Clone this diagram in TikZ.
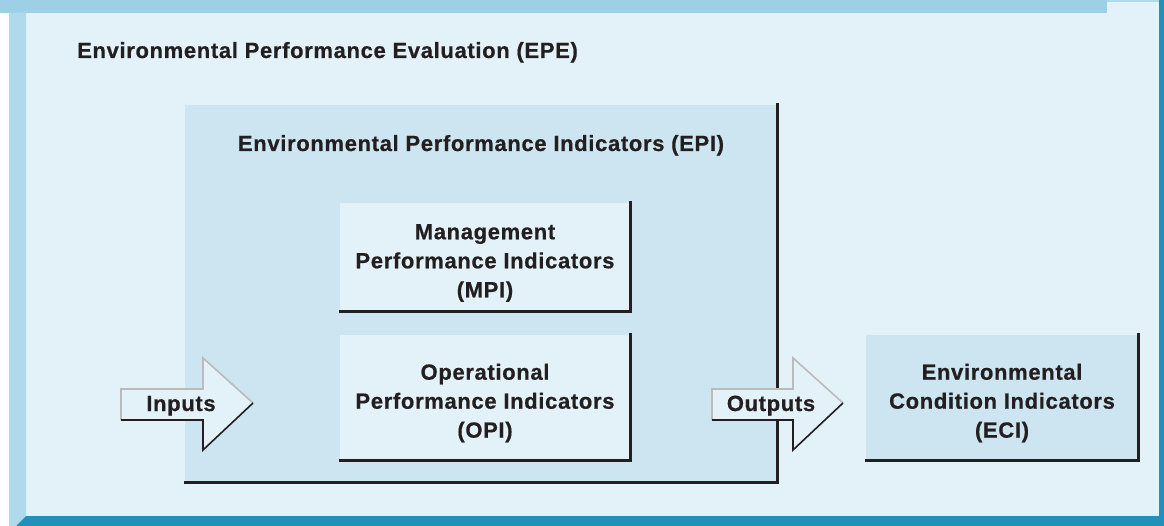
\documentclass[tikz,border=0pt]{standalone}
\usepackage{fontspec}
\newfontfamily\labelfont[LetterSpace=3,FakeBold=0.6]{Liberation Sans Bold}
\begin{document}
\definecolor{topbar}{HTML}{9DD0E7}
\definecolor{sidebar}{HTML}{B0D9EC}
\definecolor{panel}{HTML}{E3F1F8}
\definecolor{boxfill}{HTML}{CCE5F0}
\definecolor{darkbar}{HTML}{2290B8}
\definecolor{edgegray}{HTML}{BBBBBB}
\definecolor{ink}{HTML}{231F20}
\begin{tikzpicture}[x=1pt,y=-1pt,
  txt/.style={font={\labelfont\fontsize{22}{29}\selectfont},text=ink,align=center,inner sep=0pt},
  shade/.style={draw=ink,line width=3pt,line cap=rect},
  litedge/.style={draw=edgegray,line width=1.6pt,line join=miter},
  darkedge/.style={draw=ink,line width=1.6pt,line join=miter}]
\useasboundingbox (0,0) rectangle (1164,526);
% frame
\fill[white] (0,0) rectangle (1164,526);
\fill[panel] (26,2) rectangle (1159,516);
\fill[topbar] (0,0) rectangle (1107,13);
\fill[sidebar] (1107,0) rectangle (1159,2);
\fill[sidebar] (9,13) -- (26,13) -- (26,516) -- (16,526) -- (9,526) -- cycle;
\fill[darkbar] (26,516) -- (1159,516) -- (1159,0) -- (1164,0) -- (1164,526) -- (16,526) -- cycle;
% title
\node[txt,anchor=base west] (epe) at (77,58) {Environmental Performance Evaluation (EPE)};
% EPI box
\fill[boxfill] (185,105) rectangle (777,482);
\draw[shade] (777,105) -- (777,482) -- (185,482);
\node[txt,anchor=base] (epi) at (481,151) {Environmental Performance Indicators (EPI)};
% MPI box
\fill[panel] (340,203) rectangle (630,312);
\draw[shade] (630,203) -- (630,312) -- (340,312);
\node[txt] (mpi) at (485,263) {Management\\Performance Indicators\\(MPI)};
% OPI box
\fill[panel] (340,335) rectangle (630,460);
\draw[shade] (630,335) -- (630,460) -- (340,460);
\node[txt] (opi) at (485,403) {Operational\\Performance Indicators\\(OPI)};
% ECI box
\fill[boxfill] (866,335) rectangle (1138,460);
\draw[shade] (1138,335) -- (1138,460) -- (866,460);
\node[txt] (eci) at (1002,403) {Environmental\\Condition Indicators\\(ECI)};
% Inputs arrow
\fill[panel] (121,389) -- (203,389) -- (203,358) -- (253,403) -- (203,450) -- (203,420) -- (121,420) -- cycle;
\draw[litedge] (121,420) -- (121,389) -- (203,389) -- (203,358) -- (253,403);
\draw[darkedge] (121,420) -- (203,420) -- (203,450) -- (253,403);
\node[txt,anchor=base] (inputs) at (181,411) {Inputs};
% Outputs arrow
\fill[panel] (712,389) -- (793,389) -- (793,358) -- (843,403) -- (793,450) -- (793,420) -- (712,420) -- cycle;
\draw[litedge] (712,420) -- (712,389) -- (793,389) -- (793,358) -- (843,403);
\draw[darkedge] (712,420) -- (793,420) -- (793,450) -- (843,403);
\node[txt,anchor=base] (outputs) at (771,411) {Outputs};
\end{tikzpicture}
\end{document}
